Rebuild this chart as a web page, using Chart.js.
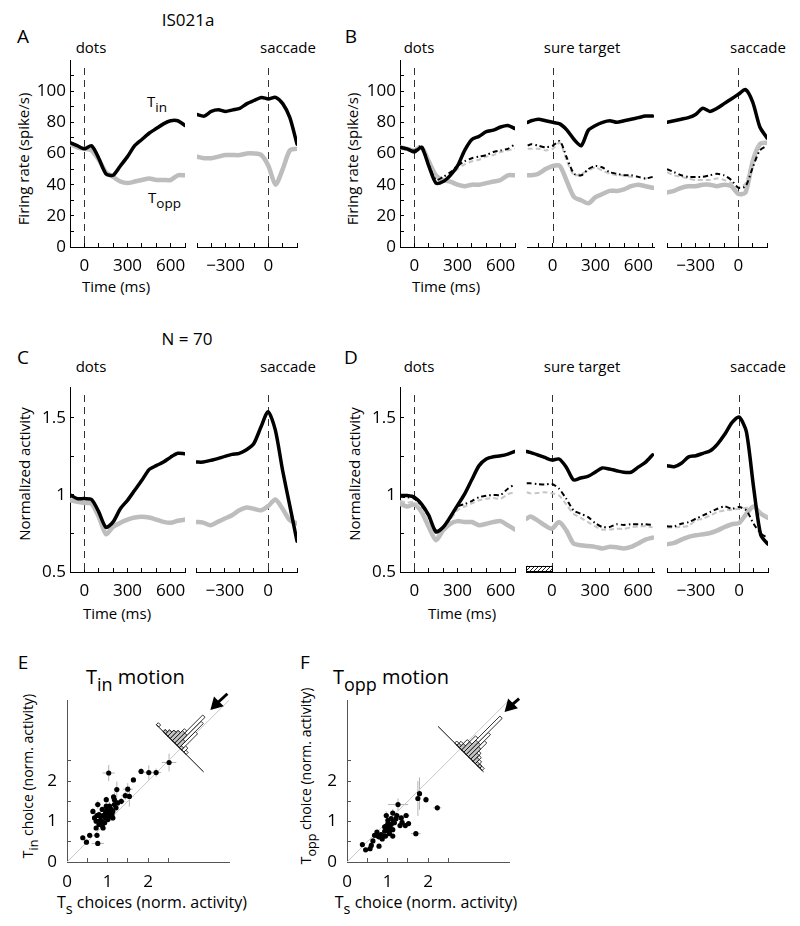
<!DOCTYPE html>
<html>
<head>
<meta charset="utf-8">
<script src="https://cdn.jsdelivr.net/npm/chart.js@4.4.1/dist/chart.umd.min.js"></script>
<style>
  body { margin: 0; width: 800px; height: 926px; position: relative; overflow: hidden; background: #fff;
         font-family: 'Open Sans', sans-serif; color: #000; }
  canvas { position: absolute; }
  .c, .l, .v { position: absolute; white-space: nowrap; line-height: 1; }
  .c { transform: translate(-50%, -50%); }
  .l { transform: translate(0, -50%); }
  .v { transform: translate(-50%, -50%) rotate(-90deg); }
  sub { font-size: 0.9em; vertical-align: -0.4em; line-height: 0; }
</style>
</head>
<body>
<!-- panel letters and headers -->
<div class="c" style="left:188px;top:19px;font-size:17px">IS021a</div>
<div class="c" style="left:23px;top:36px;font-size:19px">A</div>
<div class="c" style="left:351px;top:36px;font-size:19px">B</div>
<div class="c" style="left:187px;top:338px;font-size:17px">N = 70</div>
<div class="c" style="left:23px;top:357px;font-size:19px">C</div>
<div class="c" style="left:351px;top:357px;font-size:19px">D</div>
<div class="c" style="left:23px;top:662px;font-size:19px">E</div>
<div class="c" style="left:305px;top:662px;font-size:19px">F</div>

<!-- event labels -->
<div class="c" style="left:91px;top:47px;font-size:15px">dots</div>
<div class="c" style="left:288px;top:47px;font-size:15px">saccade</div>
<div class="c" style="left:419px;top:47px;font-size:15px">dots</div>
<div class="c" style="left:582px;top:47px;font-size:15px">sure target</div>
<div class="c" style="left:758px;top:47px;font-size:15px">saccade</div>
<div class="c" style="left:91px;top:366px;font-size:15px">dots</div>
<div class="c" style="left:288px;top:366px;font-size:15px">saccade</div>
<div class="c" style="left:419px;top:366px;font-size:15px">dots</div>
<div class="c" style="left:582px;top:366px;font-size:15px">sure target</div>
<div class="c" style="left:758px;top:366px;font-size:15px">saccade</div>

<!-- axis titles -->
<div class="v" style="left:23px;top:159px;font-size:15px">Firing rate (spike/s)</div>
<div class="v" style="left:352px;top:159px;font-size:15px">Firing rate (spike/s)</div>
<div class="v" style="left:24px;top:474px;font-size:15px">Normalized activity</div>
<div class="v" style="left:354px;top:474px;font-size:15px">Normalized activity</div>
<div class="c" style="left:116px;top:286px;font-size:15px">Time (ms)</div>
<div class="c" style="left:446px;top:286px;font-size:15px">Time (ms)</div>
<div class="c" style="left:117px;top:613px;font-size:15px">Time (ms)</div>
<div class="c" style="left:462px;top:613px;font-size:15px">Time (ms)</div>

<!-- trace annotations -->
<div class="l" style="left:147px;top:101px;font-size:15px">T<sub>in</sub></div>
<div class="l" style="left:148px;top:197px;font-size:15px">T<sub>opp</sub></div>

<!-- scatter titles -->
<div class="l" style="left:86px;top:677px;font-size:20px">T<sub>in</sub> motion</div>
<div class="l" style="left:333px;top:677px;font-size:20px">T<sub>opp</sub> motion</div>
<div class="v" style="left:28px;top:776px;font-size:14px">T<sub>in</sub> choice (norm. activity)</div>
<div class="v" style="left:306px;top:776px;font-size:14px">T<sub>opp</sub> choice (norm. activity)</div>
<div class="c" style="left:152px;top:902px;font-size:16px">T<sub>s</sub> choices (norm. activity)</div>
<div class="c" style="left:426px;top:902px;font-size:16px">T<sub>s</sub> choice (norm. activity)</div>

<canvas id="cA1"></canvas><canvas id="cA2"></canvas>
<canvas id="cB1"></canvas><canvas id="cB2"></canvas><canvas id="cB3"></canvas>
<canvas id="cC1"></canvas><canvas id="cC2"></canvas>
<canvas id="cD1"></canvas><canvas id="cD2"></canvas><canvas id="cD3"></canvas>
<canvas id="cE"></canvas><canvas id="cF"></canvas>

<script>
// time bases (ms, aligned to each event)
const dotsT = [-100, -50, 0, 50, 100, 150, 200, 250, 300, 350, 400, 450, 500, 550, 600, 650, 700];
const sureT = [-175, -150, -100, -50, 0, 50, 100, 150, 200, 250, 300, 350, 400, 450, 500, 550, 600, 650, 700];
const sacT = [-500, -450, -400, -350, -300, -250, -200, -150, -100, -50, 0, 50, 100, 150, 200];

// A: example neuron IS021a, firing rate (spike/s)
const aDotsTin = [67, 65, 63, 65, 57, 47, 46, 52, 58, 65, 69, 73, 76, 79, 81, 81, 78];
const aDotsTopp = [66, 64, 63, 62, 56, 48, 45, 42, 41, 42, 43, 44, 43, 43, 43, 46, 46];
const aSacTin = [85, 84, 87, 88, 87, 88, 89, 92, 94, 96, 95, 96, 92, 83, 66];
const aSacTopp = [58, 57, 57, 58, 59, 59, 59, 60, 60, 59, 52, 40, 50, 62, 63];

// B: same neuron, sure-target trials (S = sure-target choices)
const bDotsTin = [64, 63, 61, 64, 52, 41, 42, 46, 52, 62, 69, 71, 74, 75, 77, 78, 76];
const bDotsTopp = [64, 63, 62, 64, 55, 46, 43, 42, 40, 39, 40, 40, 41, 42, 43, 46, 46];
const bDotsTinS = [64, 63, 62, 65, 53, 43, 45, 48, 52, 55, 57, 58, 59, 61, 62, 63, 66];
const bDotsToppS = [64, 63, 63, 65, 54, 45, 43, 46, 50, 53, 55, 56, 58, 59, 61, 62, 63];
const bSureTin = [80, 81, 82, 81, 80, 79, 75, 69, 65, 75, 78, 80, 81, 80, 81, 82, 83, 84, 84];
const bSureTopp = [46, 46, 47, 50, 52, 52, 42, 32, 30, 28, 32, 34, 36, 36, 37, 39, 40, 39, 38];
const bSureTinS = [65, 66, 65, 64, 65, 68, 57, 47, 46, 50, 52, 51, 48, 47, 46, 46, 45, 44, 45];
const bSureToppS = [63, 63, 63, 62, 63, 67, 55, 46, 47, 49, 51, 49, 47, 46, 46, 45, 45, 44, 45];
const bSacTin = [80, 81, 82, 83, 85, 89, 87, 89, 92, 95, 98, 101, 93, 77, 70];
const bSacTopp = [35, 36, 38, 39, 39, 40, 40, 39, 40, 39, 34, 35, 55, 66, 67];
const bSacTinS = [50, 48, 46, 45, 45, 45, 46, 47, 46, 43, 38, 39, 51, 62, 65];
const bSacToppS = [48, 46, 45, 44, 43, 43, 43, 44, 43, 41, 38, 41, 57, 67, 67];

// C: population (N = 70), normalized activity
const cDotsTin = [1.0, 0.976, 0.976, 0.97, 0.89, 0.79, 0.825, 0.91, 0.965, 1.03, 1.095, 1.164, 1.19, 1.213, 1.245, 1.27, 1.267];
const cDotsTopp = [0.966, 0.955, 0.948, 0.944, 0.858, 0.746, 0.793, 0.819, 0.84, 0.853, 0.858, 0.853, 0.84, 0.825, 0.819, 0.832, 0.84];
const cSacTin = [1.213, 1.213, 1.224, 1.235, 1.25, 1.263, 1.27, 1.293, 1.332, 1.44, 1.54, 1.42, 1.16, 0.93, 0.7];
const cSacTopp = [0.825, 0.82, 0.804, 0.825, 0.847, 0.868, 0.9, 0.918, 0.91, 0.9, 0.927, 0.97, 0.91, 0.836, 0.815];

// D: population, sure-target trials
const dDotsTin = [0.996, 0.996, 0.985, 0.94, 0.867, 0.76, 0.79, 0.857, 0.932, 1.007, 1.1, 1.19, 1.233, 1.248, 1.254, 1.265, 1.282];
const dDotsTopp = [0.943, 0.925, 0.938, 0.889, 0.792, 0.706, 0.77, 0.813, 0.83, 0.824, 0.824, 0.803, 0.813, 0.824, 0.83, 0.803, 0.775];
const dDotsTinS = [0.99, 0.985, 0.975, 0.93, 0.86, 0.77, 0.79, 0.857, 0.925, 0.94, 0.96, 0.985, 0.995, 1.0, 1.0, 1.04, 1.07];
const dDotsToppS = [0.96, 0.95, 0.955, 0.9, 0.82, 0.73, 0.78, 0.84, 0.9, 0.925, 0.945, 0.965, 0.975, 0.98, 0.975, 1.005, 1.018];
const dSureTin = [1.282, 1.276, 1.26, 1.243, 1.226, 1.233, 1.18, 1.097, 1.11, 1.12, 1.147, 1.175, 1.168, 1.157, 1.147, 1.147, 1.18, 1.211, 1.26];
const dSureTopp = [0.846, 0.86, 0.835, 0.803, 0.781, 0.824, 0.77, 0.685, 0.674, 0.668, 0.663, 0.653, 0.663, 0.66, 0.653, 0.663, 0.685, 0.71, 0.723];
const dSureTinS = [1.076, 1.075, 1.07, 1.067, 1.071, 1.04, 0.975, 0.9, 0.878, 0.857, 0.818, 0.792, 0.792, 0.81, 0.805, 0.81, 0.81, 0.81, 0.805];
const dSureToppS = [1.018, 1.01, 1.013, 1.018, 1.011, 0.996, 0.938, 0.878, 0.852, 0.824, 0.796, 0.775, 0.775, 0.78, 0.78, 0.79, 0.796, 0.796, 0.79];
const dSacTin = [1.19, 1.183, 1.205, 1.247, 1.254, 1.27, 1.286, 1.33, 1.393, 1.469, 1.505, 1.41, 1.05, 0.74, 0.68];
const dSacTopp = [0.68, 0.689, 0.71, 0.728, 0.738, 0.745, 0.753, 0.77, 0.792, 0.81, 0.818, 0.878, 0.925, 0.878, 0.852];
const dSacTinS = [0.796, 0.796, 0.813, 0.824, 0.846, 0.867, 0.889, 0.91, 0.925, 0.91, 0.921, 0.9, 0.813, 0.75, 0.72];
const dSacToppS = [0.788, 0.79, 0.792, 0.8, 0.835, 0.846, 0.867, 0.889, 0.9, 0.904, 0.91, 0.917, 0.921, 0.889, 0.857];

// E: Tin motion, per-neuron activity (Ts choices vs Tin choices) with SE
const eX = [1.03, 1.83, 2.02, 2.20, 2.52, 1.64, 1.23, 1.50, 1.44, 1.54, 1.15, 1.17, 0.97, 0.76, 1.34, 0.64, 0.79, 0.89, 1.01, 1.09, 1.05, 1.13, 0.95, 0.84, 0.72, 0.79, 0.89, 1.01, 0.72, 0.74, 0.56, 0.39, 0.48, 0.76, 0.93, 1.05, 0.98, 0.87, 1.11, 1.21, 0.82, 0.68, 0.89, 0.95, 1.07, 1.17, 1.25, 0.80, 0.87, 0.74, 0.97, 1.13];
const eY = [2.20, 2.24, 2.21, 2.21, 2.46, 2.03, 1.79, 1.80, 1.64, 1.62, 1.61, 1.54, 1.54, 1.42, 1.50, 1.25, 1.17, 1.15, 1.20, 1.30, 1.38, 1.25, 1.09, 1.03, 1.01, 0.93, 0.84, 1.05, 0.84, 0.66, 0.66, 0.60, 0.49, 0.46, 0.97, 1.13, 1.28, 1.30, 1.17, 1.34, 1.13, 1.09, 0.98, 1.20, 1.23, 1.42, 1.46, 1.01, 0.90, 1.15, 1.38, 1.09];
const eXErr = [0.15, 0.08, 0.12, 0.12, 0.18, 0.05, 0.06, 0.12, 0.10, 0.10, 0.06, 0.06, 0.06, 0.08, 0.10, 0.05, 0.06, 0.06, 0.05, 0.06, 0.06, 0.06, 0.05, 0.06, 0.05, 0.06, 0.08, 0.06, 0.05, 0.06, 0.05, 0.05, 0.06, 0.15, 0.05, 0.06, 0.05, 0.06, 0.08, 0.06, 0.05, 0.05, 0.06, 0.05, 0.06, 0.08, 0.10, 0.05, 0.06, 0.05, 0.06, 0.08];
const eYErr = [0.20, 0.08, 0.18, 0.10, 0.22, 0.05, 0.20, 0.15, 0.10, 0.25, 0.06, 0.18, 0.08, 0.10, 0.08, 0.08, 0.08, 0.06, 0.06, 0.06, 0.10, 0.06, 0.05, 0.06, 0.05, 0.06, 0.05, 0.06, 0.05, 0.06, 0.05, 0.05, 0.06, 0.06, 0.05, 0.06, 0.08, 0.06, 0.06, 0.06, 0.05, 0.05, 0.06, 0.06, 0.06, 0.06, 0.08, 0.05, 0.05, 0.05, 0.06, 0.06];

// F: Topp motion
const fX = [1.79, 1.75, 1.95, 2.23, 1.26, 1.70, 1.46, 1.34, 1.44, 1.36, 0.97, 1.01, 0.97, 1.05, 1.13, 0.93, 0.84, 0.76, 0.68, 0.64, 0.60, 0.38, 0.46, 0.57, 0.79, 1.01, 1.09, 1.17, 1.03, 1.21, 1.09, 1.13, 1.23, 0.89, 0.80, 0.95, 1.05, 1.01, 0.93, 0.74, 0.87, 1.31, 1.52, 1.13, 1.15];
const fY = [1.69, 1.57, 1.54, 1.34, 1.42, 0.70, 1.15, 1.09, 0.90, 0.98, 1.15, 1.03, 0.89, 0.84, 0.80, 0.76, 0.68, 0.64, 0.66, 0.52, 0.41, 0.43, 0.30, 0.33, 0.39, 0.95, 0.93, 0.97, 0.76, 1.07, 1.07, 1.21, 1.15, 0.64, 0.62, 0.64, 0.70, 0.84, 0.87, 0.74, 0.57, 0.90, 0.95, 0.64, 1.00];
const fXErr = [0.06, 0.05, 0.06, 0.10, 0.25, 0.12, 0.08, 0.06, 0.06, 0.06, 0.06, 0.05, 0.05, 0.06, 0.06, 0.05, 0.05, 0.06, 0.05, 0.05, 0.05, 0.05, 0.05, 0.05, 0.05, 0.06, 0.06, 0.06, 0.05, 0.06, 0.06, 0.06, 0.06, 0.05, 0.05, 0.05, 0.06, 0.05, 0.05, 0.05, 0.05, 0.06, 0.06, 0.05, 0.06];
const fYErr = [0.40, 0.43, 0.08, 0.06, 0.15, 0.06, 0.06, 0.06, 0.06, 0.06, 0.10, 0.06, 0.05, 0.06, 0.05, 0.05, 0.05, 0.05, 0.05, 0.05, 0.05, 0.05, 0.05, 0.05, 0.05, 0.06, 0.06, 0.06, 0.05, 0.06, 0.06, 0.10, 0.06, 0.05, 0.05, 0.05, 0.06, 0.05, 0.05, 0.05, 0.05, 0.06, 0.06, 0.05, 0.06];

// diagonal histograms of (choice - Ts) differences, bins along the anti-diagonal
const eHistBins = [-0.80, -0.72, -0.64, -0.56, -0.48, -0.40, -0.32, -0.24, -0.16, -0.08, 0.00, 0.08, 0.16];
const eHistAll = [1, 0, 0, 1, 2, 3, 4, 6, 14, 12, 8, 2, 1];
const eHistSig = [0, 0, 0, 1, 2, 3, 4, 5, 5, 3, 1, 0, 0];
const fHistBins = [-0.16, -0.08, 0.00, 0.08, 0.16, 0.24, 0.32, 0.40, 0.48, 0.56, 0.64, 0.72];
const fHistAll = [1, 2, 4, 7, 18, 11, 8, 4, 3, 2, 1, 1];
const fHistSig = [0, 1, 2, 4, 6, 6, 5, 3, 2, 1, 1, 0];
const eHistBase = [-0.84, 0.81];
const fHistBase = [-0.78, 0.81];
const histCenter = 2.8, histBin = 0.08, histUnit = 0.07;
const unity = [0, 4];
const eArrow = [[3.96, 4.16], [3.68, 3.9]];
const fArrow = [[4.25, 4.04], [4.03, 3.85]];

// axes
const rateAxis = {min: 0, max: 120, ticks: [0, 10, 20, 30, 40, 50, 60, 70, 80, 90, 100, 110], labels: [0, 20, 40, 60, 80, 100]};
const normAxis = {min: 0.5, max: 1.7, ticks: [0.5, 0.75, 1, 1.25, 1.5], labels: [0.5, 1, 1.5]};
const dotsWin = {t: dotsT, min: -100, max: 700, ticks: [-100, 0, 100, 200, 300, 400, 500, 600, 700], labels: [0, 300, 600]};
const sureWin = {t: sureT, min: -180, max: 710, ticks: [-100, 0, 100, 200, 300, 400, 500, 600, 700], labels: [0, 300, 600]};
const sacWin = {t: sacT, min: -500, max: 200, ticks: [-500, -400, -300, -200, -100, 0, 100, 200], labels: [-300, 0]};
const choiceAxis = {min: 0, max: 4, ticks: [0, 0.5, 1, 1.5, 2, 2.5], labels: [0, 1, 2]};

Chart.defaults.font.family = "'Open Sans', sans-serif";
Chart.defaults.color = '#000';

const PAD = {l: 44, r: 18, t: 24, b: 34};
const fmt = v => v < 0 ? '\u2212' + (-v) : String(v);

function place(id, a) {
  const c = document.getElementById(id);
  const w = a.r - a.l + PAD.l + PAD.r, h = a.b - a.t + PAD.t + PAD.b;
  c.width = w; c.height = h;
  c.style.left = (a.l - PAD.l) + 'px'; c.style.top = (a.t - PAD.t) + 'px';
  c.style.width = w + 'px'; c.style.height = h + 'px';
  return c;
}

function axis(ax, pos, show, pad, color) {
  return {
    type: 'linear', position: pos, display: show, min: ax.min, max: ax.max,
    afterBuildTicks: s => { s.ticks = ax.ticks.map(v => ({value: v})); },
    afterFit: s => {
      if (pos === 'left') s.width = show ? PAD.l : 0;
      else s.height = show ? PAD.b : 0;
    },
    grid: {drawOnChartArea: false, drawTicks: true, tickLength: -4, color: color, lineWidth: 1},
    border: {display: true, color: color, width: 1},
    ticks: {autoSkip: false, maxRotation: 0, padding: pad, font: {size: 17}, color: '#000',
            callback: v => ax.labels.includes(v) ? fmt(v) : ''}
  };
}

const eventLine = {
  id: 'eventLine',
  beforeDatasetsDraw(chart, args, opts) {
    if (opts.x == null) return;
    const {ctx, chartArea: a} = chart;
    const px = Math.round(chart.scales.x.getPixelForValue(opts.x)) + 0.5;
    ctx.save();
    ctx.strokeStyle = '#333'; ctx.lineWidth = 1; ctx.setLineDash([7, 5]);
    ctx.beginPath(); ctx.moveTo(px, a.top + 8); ctx.lineTo(px, a.bottom); ctx.stroke();
    ctx.restore();
  }
};

const hatchBar = {
  id: 'hatchBar',
  afterDatasetsDraw(chart, args, opts) {
    if (!opts.span) return;
    const {ctx, scales: {x, y}} = chart;
    const [t0, t1, v0, v1] = opts.span;
    const p = document.createElement('canvas');
    p.width = p.height = 4;
    const g = p.getContext('2d');
    g.fillStyle = '#fff'; g.fillRect(0, 0, 4, 4);
    g.strokeStyle = '#222'; g.lineWidth = 1;
    g.beginPath(); g.moveTo(-1, 5); g.lineTo(5, -1); g.stroke();
    const x0 = x.getPixelForValue(t0), x1 = x.getPixelForValue(t1);
    const y0 = y.getPixelForValue(v0), y1 = y.getPixelForValue(v1);
    ctx.save();
    ctx.fillStyle = ctx.createPattern(p, 'repeat');
    ctx.fillRect(x0, y1, x1 - x0, y0 - y1);
    ctx.strokeStyle = '#000'; ctx.lineWidth = 1;
    ctx.strokeRect(Math.round(x0) + 0.5, Math.round(y1) + 0.5, Math.round(x1 - x0), Math.round(y0 - y1) - 1);
    ctx.restore();
  }
};

const errorBars = {
  id: 'errorBars',
  beforeDatasetsDraw(chart) {
    const {ctx, scales: {x, y}} = chart;
    chart.data.datasets.forEach(ds => {
      if (!ds.xErr) return;
      ctx.save();
      ctx.strokeStyle = '#b4b4b4'; ctx.lineWidth = 1;
      ds.data.forEach((p, i) => {
        const px = x.getPixelForValue(p.x), py = y.getPixelForValue(p.y);
        ctx.beginPath();
        ctx.moveTo(x.getPixelForValue(p.x - ds.xErr[i]), py);
        ctx.lineTo(x.getPixelForValue(p.x + ds.xErr[i]), py);
        ctx.moveTo(px, y.getPixelForValue(p.y - ds.yErr[i]));
        ctx.lineTo(px, y.getPixelForValue(p.y + ds.yErr[i]));
        ctx.stroke();
      });
      ctx.restore();
    });
  }
};

const lineStyle = {
  tin:   {borderColor: '#000', borderWidth: 3.5, borderCapStyle: 'round', order: 0},
  tinS:  {borderColor: '#000', borderWidth: 2, borderDash: [5, 3, 1.5, 3], borderCapStyle: 'butt', order: 1},
  toppS: {borderColor: '#c6c6c6', borderWidth: 2, borderDash: [5, 3], borderCapStyle: 'butt', order: 2},
  topp:  {borderColor: '#bdbdbd', borderWidth: 4.5, borderCapStyle: 'round', order: 3}
};

function traceChart(id, area, win, yAx, showY, series, hatch) {
  return new Chart(place(id, area), {
    type: 'line',
    data: {
      datasets: series.map(([kind, vals]) => Object.assign({
        data: win.t.map((t, i) => ({x: t, y: vals[i]})),
        pointRadius: 0, tension: 0.25, fill: false, borderJoinStyle: 'round'
      }, lineStyle[kind]))
    },
    options: {
      responsive: false, animation: false, events: [],
      layout: {padding: {left: showY ? 0 : PAD.l, right: PAD.r, top: PAD.t, bottom: 0}},
      plugins: {legend: {display: false}, tooltip: {enabled: false},
                eventLine: {x: 0}, hatchBar: hatch ? {span: hatch} : {}},
      scales: {x: axis(win, 'bottom', true, 13, '#000'), y: axis(yAx, 'left', showY, 8, '#000')}
    },
    plugins: [eventLine, hatchBar]
  });
}

function scatterChart(id, area, xs, ys, xErr, yErr, bins, all, sig, base, arrow) {
  const s = Math.SQRT1_2;
  const onHist = (u, v) => ({x: histCenter + (u + v) * s, y: histCenter + (v - u) * s});
  const bars = [];
  bins.forEach((u, i) => {
    const a = u - histBin / 2, b = u + histBin / 2;
    [[all[i], '#fff', 4], [sig[i], '#c4c4c4', 3]].forEach(([n, col, ord]) => {
      if (!n) return;
      const h = n * histUnit;
      bars.push({data: [onHist(a, 0), onHist(a, h), onHist(b, h), onHist(b, 0), onHist(a, 0)],
                 borderColor: '#000', borderWidth: 0.8, backgroundColor: col, fill: 'shape',
                 pointRadius: 0, tension: 0, order: ord});
    });
  });
  return new Chart(place(id, area), {
    type: 'line',
    data: {
      datasets: [
        {data: xs.map((x, i) => ({x, y: ys[i]})), showLine: false, pointRadius: 2.6,
         pointBackgroundColor: '#000', pointBorderColor: '#000', pointBorderWidth: 0, xErr, yErr, order: 0},
        {data: arrow.map(([x, y]) => ({x, y})), borderColor: '#000', borderWidth: 3,
         pointRadius: [0, 5], pointStyle: 'triangle', pointRotation: 225,
         pointBackgroundColor: '#000', pointBorderColor: '#000', clip: false, order: 1},
        {data: base.map(u => onHist(u, 0)), borderColor: '#000', borderWidth: 1, pointRadius: 0, order: 2},
        ...bars,
        {data: unity.map(v => ({x: v, y: v})), borderColor: '#c8c8c8', borderWidth: 1, pointRadius: 0, order: 9}
      ]
    },
    options: {
      responsive: false, animation: false, events: [],
      layout: {padding: {left: 0, right: PAD.r, top: PAD.t, bottom: 0}},
      plugins: {legend: {display: false}, tooltip: {enabled: false}},
      scales: {x: axis(choiceAxis, 'bottom', true, 14, '#555'), y: axis(choiceAxis, 'left', true, 14, '#555')}
    },
    plugins: [errorBars]
  });
}

const topRow = {t: 60, b: 247}, midRow = {t: 387, b: 572};

traceChart('cA1', {l: 70, r: 185, ...topRow}, dotsWin, rateAxis, true,
  [['topp', aDotsTopp], ['tin', aDotsTin]]);
traceChart('cA2', {l: 197, r: 297, ...topRow}, sacWin, rateAxis, false,
  [['topp', aSacTopp], ['tin', aSacTin]]);
traceChart('cB1', {l: 400, r: 515, ...topRow}, dotsWin, rateAxis, true,
  [['topp', bDotsTopp], ['toppS', bDotsToppS], ['tinS', bDotsTinS], ['tin', bDotsTin]]);
traceChart('cB2', {l: 527, r: 654, ...topRow}, sureWin, rateAxis, false,
  [['topp', bSureTopp], ['toppS', bSureToppS], ['tinS', bSureTinS], ['tin', bSureTin]]);
traceChart('cB3', {l: 667, r: 767, ...topRow}, sacWin, rateAxis, false,
  [['topp', bSacTopp], ['toppS', bSacToppS], ['tinS', bSacTinS], ['tin', bSacTin]]);

traceChart('cC1', {l: 70, r: 185, ...midRow}, dotsWin, normAxis, true,
  [['topp', cDotsTopp], ['tin', cDotsTin]]);
traceChart('cC2', {l: 196, r: 297, ...midRow}, sacWin, normAxis, false,
  [['topp', cSacTopp], ['tin', cSacTin]]);
traceChart('cD1', {l: 400, r: 515, ...midRow}, dotsWin, normAxis, true,
  [['topp', dDotsTopp], ['toppS', dDotsToppS], ['tinS', dDotsTinS], ['tin', dDotsTin]]);
traceChart('cD2', {l: 526, r: 654, ...midRow}, sureWin, normAxis, false,
  [['topp', dSureTopp], ['toppS', dSureToppS], ['tinS', dSureTinS], ['tin', dSureTin]], [-180, 0, 0.5, 0.54]);
traceChart('cD3', {l: 667, r: 768, ...midRow}, sacWin, normAxis, false,
  [['topp', dSacTopp], ['toppS', dSacToppS], ['tinS', dSacTinS], ['tin', dSacTin]]);

scatterChart('cE', {l: 67, r: 229, t: 700, b: 862}, eX, eY, eXErr, eYErr,
  eHistBins, eHistAll, eHistSig, eHistBase, eArrow);
scatterChart('cF', {l: 347, r: 509, t: 700, b: 862}, fX, fY, fXErr, fYErr,
  fHistBins, fHistAll, fHistSig, fHistBase, fArrow);
</script>
</body>
</html>
